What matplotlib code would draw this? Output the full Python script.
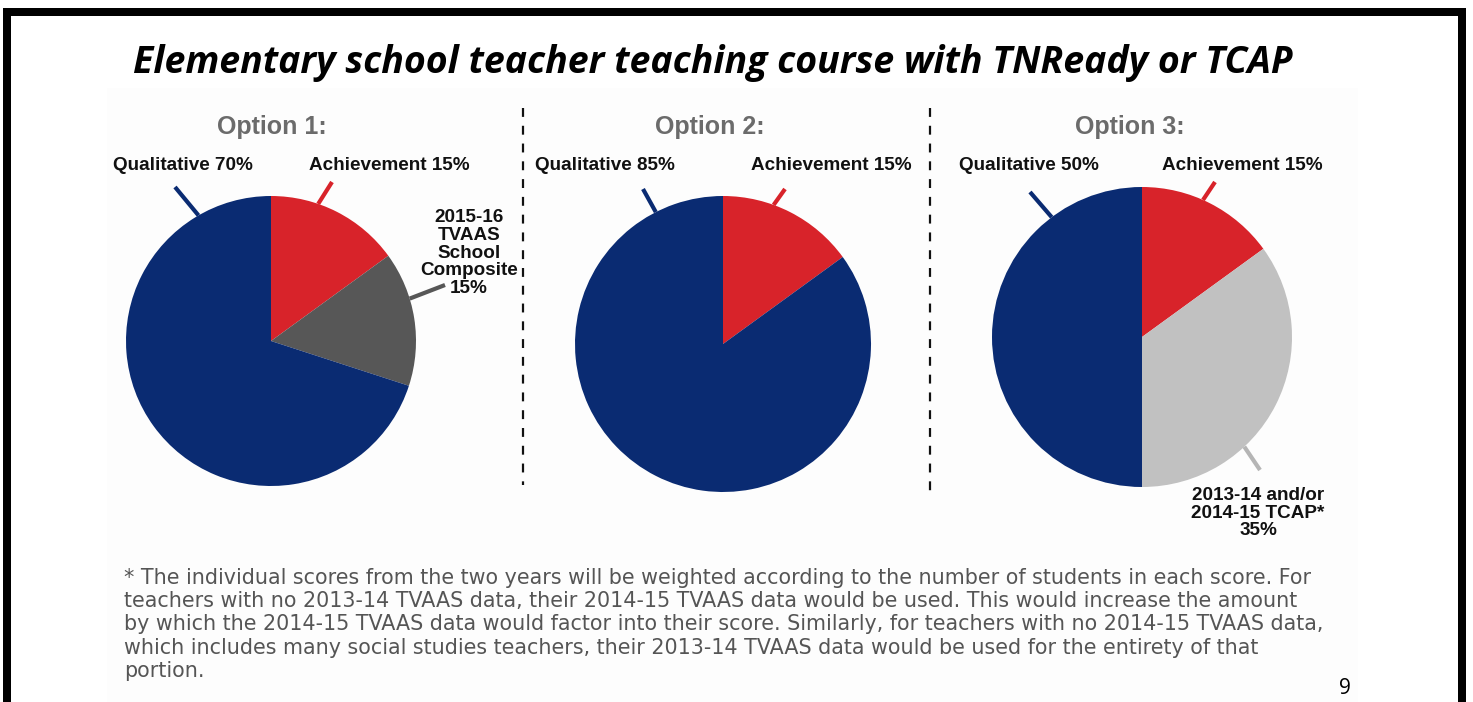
import numpy as np
import matplotlib.pyplot as plt
from matplotlib.patches import Rectangle

# chart data
options = ["Option 1:", "Option 2:", "Option 3:"]
shares_1 = [15, 15, 70]
shares_2 = [15, 85]
shares_3 = [15, 35, 50]
labels_1 = ["Achievement 15%", "2015-16\nTVAAS\nSchool\nComposite\n15%", "Qualitative 70%"]
labels_2 = ["Achievement 15%", "Qualitative 85%"]
labels_3 = ["Achievement 15%", "2013-14 and/or\n2014-15 TCAP*\n35%", "Qualitative 50%"]
colors_1 = ["#d8232a", "#575757", "#0a2b72"]
colors_2 = ["#d8232a", "#0a2b72"]
colors_3 = ["#d8232a", "#c1c1c1", "#0a2b72"]

title = "Elementary school teacher teaching course with TNReady or TCAP"
footnote = ("* The individual scores from the two years will be weighted according to the number of students in each score. For\n"
            "teachers with no 2013-14 TVAAS data, their 2014-15 TVAAS data would be used. This would increase the amount\n"
            "by which the 2014-15 TVAAS data would factor into their score. Similarly, for teachers with no 2014-15 TVAAS data,\n"
            "which includes many social studies teachers, their 2013-14 TVAAS data would be used for the entirety of that\n"
            "portion.")

# layout (pixel coordinates, y downward)
pies = [
    # center, radius, option title x, label positions, leader angles (deg), leader outer points
    dict(shares=shares_1, labels=labels_1, colors=colors_1, c=(271, 341), r=145, tx=272,
         pos=[(389, 165), (469, 253), (183, 165)],
         lead=[(71, (332, 182)), (17, (445, 285)), (120, (175, 187))]),
    dict(shares=shares_2, labels=labels_2, colors=colors_2, c=(723, 344), r=148, tx=710,
         pos=[(831, 165), (605, 165)],
         lead=[(70, (785, 189)), (117, (643, 189))]),
    dict(shares=shares_3, labels=labels_3, colors=colors_3, c=(1142, 337), r=150, tx=1130,
         pos=[(1242, 165), (1258, 513), (1029, 165)],
         lead=[(66, (1215, 182)), (-47, (1260, 470)), (127, (1030, 192))]),
]

W, H = 1473, 702
fig = plt.figure(figsize=(W / 100, H / 100), dpi=100)
ax = fig.add_axes([0, 0, 1, 1])

# faint panel behind the infographic
ax.add_patch(Rectangle((107, 88), 1251, 620, facecolor="#fdfdfd", edgecolor="none", zorder=0))

for p in pies:
    cx, cy = p["c"]
    ax.pie(p["shares"], colors=p["colors"], startangle=-90, counterclock=True,
           radius=p["r"], center=(cx, cy), frame=True,
           wedgeprops=dict(linewidth=0))
    for (ang, (ox, oy)), col in zip(p["lead"], p["colors"]):
        a = np.deg2rad(ang)
        ex, ey = cx + p["r"] * np.cos(a), cy - p["r"] * np.sin(a)
        lc = col if col != "#c1c1c1" else "#b5b5b5"
        ax.plot([ex, ox], [ey, oy], color=lc, lw=3, solid_capstyle="butt", zorder=1)
    for (lx, ly), lab in zip(p["pos"], p["labels"]):
        ax.text(lx, ly, lab, ha="center", va="center", fontsize=13.6, fontweight="bold",
                family="Liberation Sans", color="#111111", linespacing=1.05)

for p, name in zip(pies, options):
    ax.text(p["tx"], 127, name, ha="center", va="center", fontsize=18, fontweight="bold",
            family="Liberation Sans", color="#6b6b6b")

# dashed dividers
for x, y1 in [(523, 485), (930, 497)]:
    ax.plot([x, x], [108, y1], color="#111111", lw=1.6, ls=(0, (4, 4)))

ax.text(713, 63, title, ha="center", va="center", fontsize=27, fontweight="bold",
        fontstyle="italic", family="Open Sans", color="black")

ax.text(124, 568, footnote, ha="left", va="top", fontsize=14.9, family="DejaVu Sans",
        color="#555555", linespacing=1.2)

ax.text(1345, 688, "9", ha="center", va="center", fontsize=15, family="Open Sans", color="black")

# black frame
ax.add_patch(Rectangle((3, 8), 1463, 8, facecolor="black", edgecolor="none"))
ax.add_patch(Rectangle((3, 8), 8, 700, facecolor="black", edgecolor="none"))
ax.add_patch(Rectangle((1458, 8), 8, 700, facecolor="black", edgecolor="none"))

ax.set_xlim(0, W)
ax.set_ylim(H, 0)
ax.axis("off")
fig.savefig("out.png", dpi=100, facecolor="white")
